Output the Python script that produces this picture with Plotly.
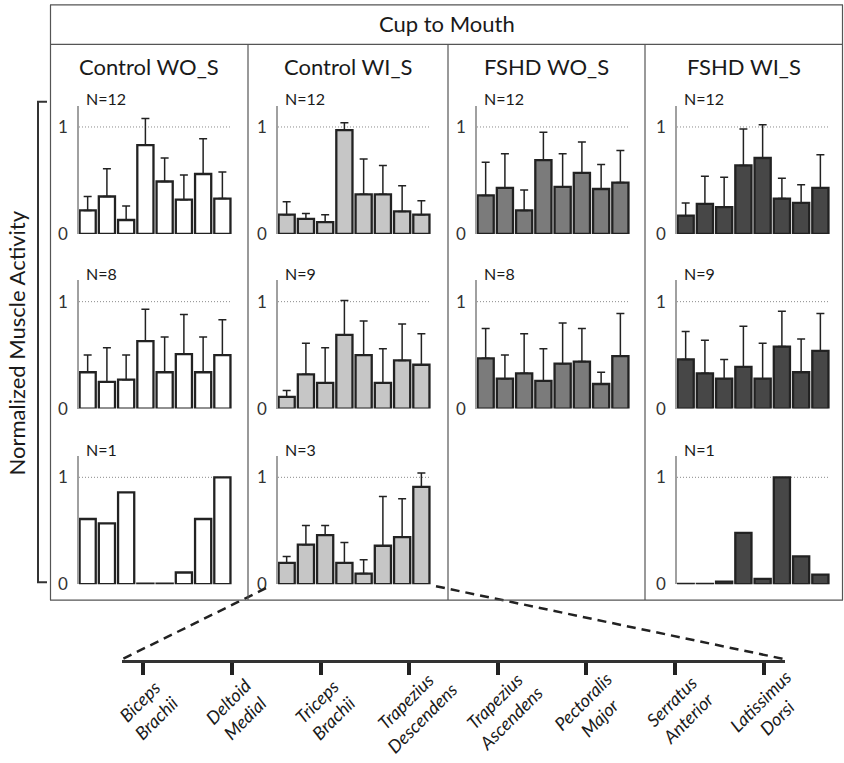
import plotly.graph_objects as go

W, H = 844, 763

task = "Cup to Mouth"
y_title = "Normalized Muscle Activity"
groups = ["Control WO_S", "Control WI_S", "FSHD WO_S", "FSHD WI_S"]
group_colors = ["#ffffff", "#c6c6c6", "#7b7b7b", "#474747"]
muscles = ["Biceps<br>Brachii", "Deltoid<br>Medial", "Triceps<br>Brachii",
           "Trapezius<br>Descendens", "Trapezius<br>Ascendens", "Pectoralis<br>Major",
           "Serratus<br>Anterior", "Latissimus<br>Dorsi"]
y_ticks = [0, 1]

# Row 1
ctrl_wo_n12_mean = [0.22, 0.35, 0.13, 0.83, 0.49, 0.32, 0.56, 0.33]
ctrl_wo_n12_sd = [0.13, 0.26, 0.13, 0.25, 0.22, 0.23, 0.33, 0.25]
ctrl_wi_n12_mean = [0.18, 0.14, 0.11, 0.97, 0.37, 0.37, 0.21, 0.18]
ctrl_wi_n12_sd = [0.12, 0.05, 0.07, 0.07, 0.33, 0.27, 0.24, 0.13]
fshd_wo_n12_mean = [0.36, 0.43, 0.22, 0.69, 0.44, 0.57, 0.42, 0.48]
fshd_wo_n12_sd = [0.31, 0.32, 0.19, 0.26, 0.31, 0.29, 0.23, 0.30]
fshd_wi_n12_mean = [0.17, 0.28, 0.25, 0.64, 0.71, 0.33, 0.29, 0.43]
fshd_wi_n12_sd = [0.12, 0.26, 0.28, 0.34, 0.31, 0.19, 0.17, 0.31]

# Row 2
ctrl_wo_n8_mean = [0.34, 0.25, 0.27, 0.63, 0.34, 0.51, 0.34, 0.50]
ctrl_wo_n8_sd = [0.16, 0.32, 0.23, 0.30, 0.33, 0.37, 0.33, 0.33]
ctrl_wi_n9_mean = [0.11, 0.32, 0.24, 0.69, 0.50, 0.24, 0.45, 0.41]
ctrl_wi_n9_sd = [0.06, 0.29, 0.33, 0.32, 0.32, 0.32, 0.34, 0.29]
fshd_wo_n8_mean = [0.47, 0.28, 0.33, 0.26, 0.42, 0.44, 0.23, 0.49]
fshd_wo_n8_sd = [0.28, 0.22, 0.37, 0.30, 0.38, 0.31, 0.11, 0.40]
fshd_wi_n9_mean = [0.46, 0.33, 0.28, 0.39, 0.28, 0.58, 0.34, 0.54]
fshd_wi_n9_sd = [0.26, 0.31, 0.18, 0.38, 0.33, 0.33, 0.31, 0.35]

# Row 3
ctrl_wo_n1_value = [0.61, 0.57, 0.86, 0.005, 0.005, 0.11, 0.61, 1.0]
ctrl_wi_n3_mean = [0.20, 0.37, 0.46, 0.20, 0.10, 0.36, 0.44, 0.91]
ctrl_wi_n3_sd = [0.06, 0.18, 0.09, 0.19, 0.13, 0.46, 0.36, 0.13]
fshd_wi_n1_value = [0.003, 0.003, 0.025, 0.48, 0.05, 1.0, 0.26, 0.09]

# (row, column, N, means, sd)
panels = [
    (0, 0, 12, ctrl_wo_n12_mean, ctrl_wo_n12_sd),
    (0, 1, 12, ctrl_wi_n12_mean, ctrl_wi_n12_sd),
    (0, 2, 12, fshd_wo_n12_mean, fshd_wo_n12_sd),
    (0, 3, 12, fshd_wi_n12_mean, fshd_wi_n12_sd),
    (1, 0, 8, ctrl_wo_n8_mean, ctrl_wo_n8_sd),
    (1, 1, 9, ctrl_wi_n9_mean, ctrl_wi_n9_sd),
    (1, 2, 8, fshd_wo_n8_mean, fshd_wo_n8_sd),
    (1, 3, 9, fshd_wi_n9_mean, fshd_wi_n9_sd),
    (2, 0, 1, ctrl_wo_n1_value, None),
    (2, 1, 3, ctrl_wi_n3_mean, ctrl_wi_n3_sd),
    (2, 3, 1, fshd_wi_n1_value, None),
]

FONT = "Lato"
INK = "#222222"
FRAME = "#555555"
TEXT = "#1a1a1a"


def px(x):
    return x / W


def py(y):
    return 1 - y / H


# pixel layout of the small multiples
col_left = [50, 248, 448, 645, 843]
axis_left = [79, 278, 477, 677]
plot_w = 153
zero_y = [237, 414, 592]
plot_h = 130  # covers 0 .. 1.2

fig = go.Figure()
layout = {}
shapes = []
annotations = []
x_cats = list(range(len(muscles)))

for i, (r, c, n, mean, sd) in enumerate(panels, start=1):
    xa = "x" if i == 1 else f"x{i}"
    ya = "y" if i == 1 else f"y{i}"
    err = None
    if sd is not None:
        err = dict(type="data", symmetric=False, array=sd, arrayminus=[0] * len(sd),
                   color=INK, thickness=1.5, width=4)
    fig.add_trace(go.Bar(
        x=x_cats, y=mean, xaxis=xa, yaxis=ya,
        marker=dict(color=group_colors[c], line=dict(color=INK, width=2.3)),
        error_y=err, showlegend=False, hoverinfo="skip",
    ))
    x0 = axis_left[c]
    y0 = zero_y[r]
    layout["xaxis" if i == 1 else f"xaxis{i}"] = dict(
        domain=[px(x0), px(x0 + plot_w)], anchor=ya, range=[-0.45, 7.5],
        visible=False, fixedrange=True,
    )
    layout["yaxis" if i == 1 else f"yaxis{i}"] = dict(
        domain=[py(y0), py(y0 - plot_h)], anchor=xa, range=[0, 1.2],
        tickvals=y_ticks, ticktext=[str(t) for t in y_ticks], ticks="",
        showgrid=False, zeroline=False, showline=True,
        linecolor="#a0a0a0", linewidth=1.5, ticklabelstandoff=6,
        tickfont=dict(family=FONT, size=17, color="#333333"), fixedrange=True,
    )
    # dotted reference line at 1
    shapes.append(dict(type="line", xref=f"{xa} domain", yref=ya, x0=0, x1=1, y0=1, y1=1,
                       line=dict(color="#8a8a8a", width=1, dash="1px,2px"), layer="below"))
    annotations.append(dict(text=f"N={n}", xref="paper", yref="paper",
                            x=px(x0 + 5), y=py(y0 - 137), xanchor="left", yanchor="middle",
                            showarrow=False, font=dict(family=FONT, size=16, color=TEXT)))

# expanded muscle axis under the figure
nb = len(panels) + 1
fig.add_trace(go.Scatter(x=x_cats, y=[0] * len(x_cats), xaxis=f"x{nb}", yaxis=f"y{nb}",
                         mode="markers", marker=dict(opacity=0), showlegend=False,
                         hoverinfo="skip"))
layout[f"xaxis{nb}"] = dict(
    domain=[px(122), px(785)], anchor=f"y{nb}", range=[-0.24, 7.24],
    tickvals=x_cats, showticklabels=False, ticks="outside", ticklen=12, tickwidth=3.5,
    tickcolor=INK, showline=True, linecolor="#333333", linewidth=3, showgrid=False,
    zeroline=False, fixedrange=True,
)
layout[f"yaxis{nb}"] = dict(domain=[py(669), py(650)], anchor=f"x{nb}", visible=False,
                            range=[-1, 1], fixedrange=True)
for k, name in enumerate(muscles):
    annotations.append(dict(text=name, xref=f"x{nb}", yref="paper", x=k + 0.05, y=py(719),
                            xanchor="center", yanchor="middle", textangle=-45,
                            showarrow=False, align="center",
                            font=dict(family=FONT, size=18, color=TEXT, style="italic")))

# zoom guide lines from the Control WI_S N=3 panel to the expanded axis
shapes.append(dict(type="line", xref="paper", yref="paper", x0=px(266), y0=py(596),
                   x1=px(122), y1=py(668), line=dict(color=INK, width=2.5, dash="9px,6px")))
shapes.append(dict(type="line", xref="paper", yref="paper", x0=px(436), y0=py(594),
                   x1=px(785), y1=py(668), line=dict(color=INK, width=2.5, dash="9px,6px")))

# table frame
frame_lines = [
    (50, 5, 843, 5), (50, 45, 843, 45), (50, 608, 843, 608),
    (50.5, 5, 50.5, 608), (842.5, 5, 842.5, 608),
    (248, 45, 248, 608), (448, 45, 448, 608), (645, 45, 645, 608),
]
for xa0, ya0, xa1, ya1 in frame_lines:
    shapes.append(dict(type="line", xref="paper", yref="paper", x0=px(xa0), y0=py(ya0),
                       x1=px(xa1), y1=py(ya1), line=dict(color=FRAME, width=1.2)))

# bracket next to the y title
shapes.append(dict(type="path", xref="paper", yref="paper",
                   path=(f"M {px(47)},{py(103)} L {px(38)},{py(103)} "
                         f"L {px(38)},{py(590)} L {px(47)},{py(590)}"),
                   line=dict(color="#333333", width=2)))

annotations.append(dict(text=task, xref="paper", yref="paper", x=px(447), y=py(24),
                        xanchor="center", yanchor="middle", showarrow=False,
                        font=dict(family=FONT, size=22, color=TEXT)))
for c, g in enumerate(groups):
    annotations.append(dict(text=g, xref="paper", yref="paper",
                            x=px((col_left[c] + col_left[c + 1]) / 2), y=py(67),
                            xanchor="center", yanchor="middle", showarrow=False,
                            font=dict(family=FONT, size=22, color=TEXT)))
annotations.append(dict(text=y_title, xref="paper", yref="paper", x=px(16), y=py(348),
                        xanchor="center", yanchor="middle", textangle=-90, showarrow=False,
                        font=dict(family=FONT, size=22, color=TEXT)))

fig.update_layout(
    width=W, height=H, margin=dict(l=0, r=0, t=0, b=0),
    paper_bgcolor="white", plot_bgcolor="rgba(0,0,0,0)",
    bargap=0.16, shapes=shapes, annotations=annotations,
    font=dict(family=FONT), **layout,
)

fig.write_html("out.html")
